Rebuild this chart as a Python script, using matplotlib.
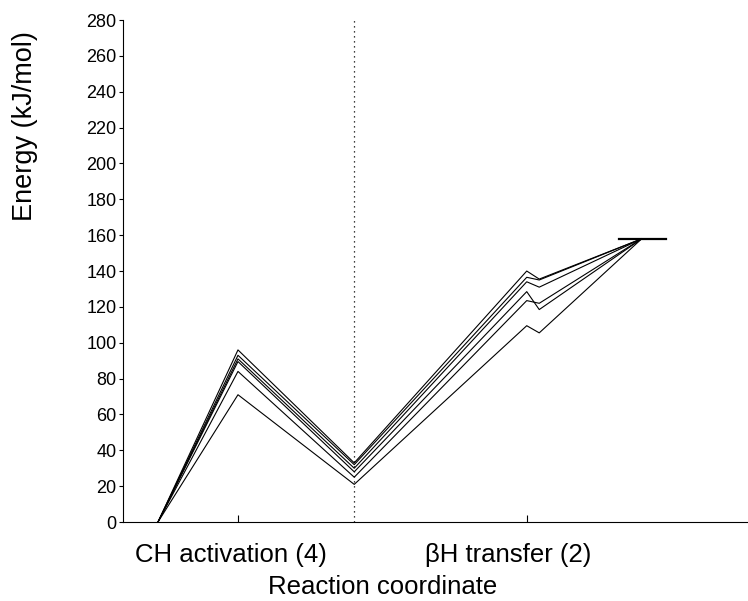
# Energy profile: CH activation / beta-H transfer pathways
import matplotlib
matplotlib.use("Agg")
import matplotlib.pyplot as plt

# -------------------------------------------------------
# DATA
# -------------------------------------------------------
coord = [0.56, 1.84, 3.70, 6.46, 6.66, 8.30]   # reaction coordinate positions

paths = [
    [0, 96.0, 33.0, 140.0, 135.5, 158.0],
    [0, 93.0, 32.0, 136.5, 135.0, 158.0],
    [0, 91.0, 30.0, 134.0, 131.0, 158.0],
    [0, 89.5, 28.0, 128.5, 118.5, 158.0],
    [0, 84.0, 25.0, 123.5, 122.0, 158.0],
    [0, 71.0, 21.0, 109.5, 105.5, 158.0],
]

product_span = [7.94, 8.69]
product_level = 158.0
divider = 3.70

tick_pos = [1.84, 6.46]                 # tick marks
label_pos = [1.73, 6.16]                # where the step names sit
tick_labels = ["CH activation (4)", "\u03b2H transfer (2)"]
yticks = list(range(0, 281, 20))

plt.rcParams["font.family"] = ["Liberation Sans", "DejaVu Sans"]

fig = plt.figure(figsize=(7.48, 6.01), dpi=100)
ax = fig.add_axes([0.1644, 0.1314, 0.8356, 0.8353])

for e in paths:
    ax.plot(coord, e, color="black", lw=0.8)

ax.plot(product_span, [product_level, product_level], color="black", lw=1.6)
ax.axvline(divider, color="black", lw=0.9, ls=(0, (1, 3)))

ax.set_xlim(0, 10)
ax.set_ylim(0, 280)
ax.set_yticks(yticks)

# tick marks on major, names on minor (no marks)
ax.set_xticks(tick_pos)
ax.set_xticklabels([])
ax.set_xticks(label_pos, minor=True)
ax.set_xticklabels(tick_labels, minor=True, fontsize=18.5)
ax.tick_params(axis="x", which="major", direction="in", length=5)
ax.tick_params(axis="x", which="minor", length=0, pad=15)
ax.tick_params(axis="y", direction="out", length=3, labelsize=13, pad=1.5)

for s in ["top", "right"]:
    ax.spines[s].set_visible(False)

ax.set_ylabel("Energy (kJ/mol)", fontsize=19.5)
ax.yaxis.label.set_va("center")
ax.yaxis.set_label_coords(-0.157, 0.789)

ax.set_xlabel("Reaction coordinate", fontsize=18.5)
ax.xaxis.label.set_va("baseline")
ax.xaxis.set_label_coords(0.415, -0.143)

fig.savefig("out.png", dpi=100)
